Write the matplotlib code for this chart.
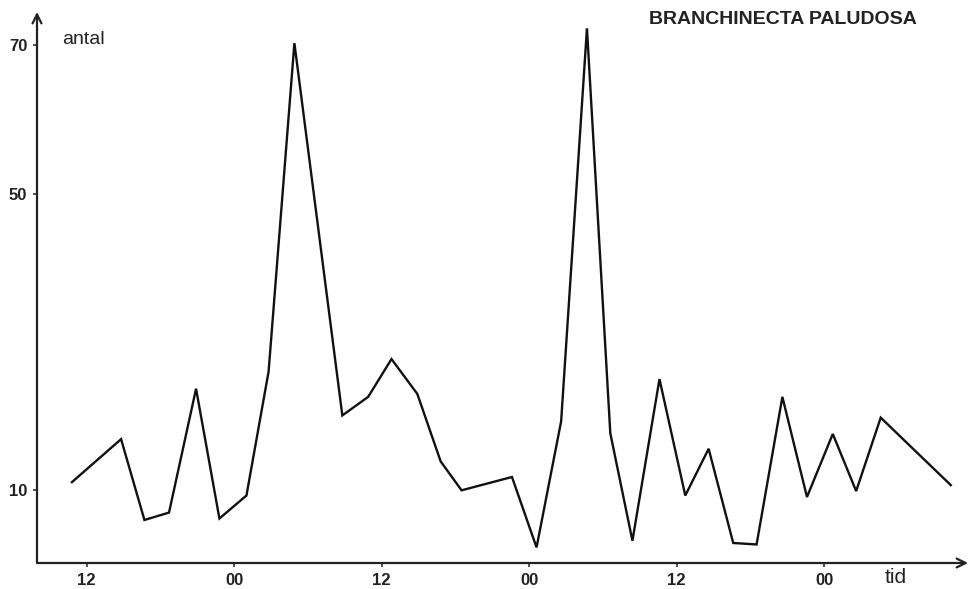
import matplotlib
matplotlib.use("Agg")
import matplotlib.pyplot as plt

# Timer (klokkeslæt i timer fra start af første døgn) og antal
hours = [10.8, 14.8, 16.7, 18.7, 20.9, 22.8, 25.0, 26.8, 28.9, 32.8,
         34.9, 36.8, 38.9, 40.8, 42.5, 46.6, 48.6, 50.6, 52.7, 54.6,
         56.4, 58.6, 60.7, 62.6, 64.6, 66.5, 68.6, 70.6, 72.7, 74.6,
         76.6, 82.3]
antal = [11.1, 16.9, 6.0, 7.0, 23.7, 6.2, 9.3, 26.0, 70.3, 20.1,
         22.6, 27.7, 23.0, 13.9, 10.0, 11.8, 2.3, 19.3, 72.3, 17.7,
         3.2, 25.0, 9.3, 15.6, 2.9, 2.7, 22.6, 9.1, 17.6, 9.9,
         19.8, 10.7]

xtick_pos = [12, 24, 36, 48, 60, 72]
xtick_labels = ["12", "00", "12", "00", "12", "00"]
ytick_pos = [10, 50, 70]
ytick_labels = ["10", "50", "70"]

plt.rcParams['font.family'] = ['Liberation Sans', 'DejaVu Sans']

fig = plt.figure(figsize=(9.72, 5.89), dpi=100)
ax = fig.add_axes([37/972, 26/589, 931/972, 551/589])

ax.plot(hours, antal, color='#111111', lw=1.7, solid_joinstyle='miter')

ax.set_xlim(7.96, 83.7)
ax.set_ylim(0.2, 74.5)

for s in ax.spines.values():
    s.set_visible(False)

# akser med pile
ax.annotate('', xy=(1.0, 0), xytext=(0, 0), xycoords='axes fraction',
            arrowprops=dict(arrowstyle='->', color='#222222', lw=1.6,
                            mutation_scale=16, shrinkA=0, shrinkB=0))
ax.annotate('', xy=(0, 1.0), xytext=(0, 0), xycoords='axes fraction',
            arrowprops=dict(arrowstyle='->', color='#222222', lw=1.6,
                            mutation_scale=16, shrinkA=0, shrinkB=0))

ax.set_xticks(xtick_pos)
ax.set_xticklabels(xtick_labels, fontsize=12, fontweight='bold', color='#222222')
ax.set_yticks(ytick_pos)
ax.set_yticklabels(ytick_labels, fontsize=12, fontweight='bold', color='#222222')
ax.tick_params(axis='both', length=3, width=1.2, color='#333333', pad=4)

ax.text(25/931, 0.95, 'antal', transform=ax.transAxes,
        fontsize=14, color='#222222', va='center', ha='left')
ax.text(77.8, -0.026, 'tid', transform=ax.get_xaxis_transform(),
        fontsize=15, color='#222222', va='center', ha='center')
fig.text(783/972, 1 - 20/589, 'BRANCHINECTA PALUDOSA', fontsize=14,
         fontweight='bold', color='#222222', ha='center', va='center')

fig.savefig('out.png', dpi=100, facecolor='white')
